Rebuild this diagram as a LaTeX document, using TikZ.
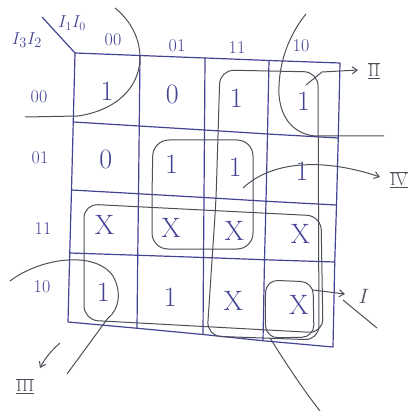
\documentclass[tikz,border=0pt]{standalone}
\usetikzlibrary{calc,arrows.meta}
\definecolor{ink}{RGB}{68,68,148}
\definecolor{pencil}{RGB}{78,78,90}
\tikzset{
  gridline/.style={draw=ink, line width=1.2pt},
  loopline/.style={draw=pencil, line width=1pt, rounded corners=14pt},
  freeline/.style={draw=pencil, line width=1pt},
  cellval/.style={text=ink, font=\fontsize{28}{30}\selectfont, inner sep=0pt},
  hdr/.style={text=ink, font=\fontsize{18}{20}\selectfont, inner sep=0pt},
  roman/.style={text=pencil, font=\fontsize{18}{20}\selectfont, inner sep=0pt},
  arr/.style={draw=pencil, line width=1pt, -{Straight Barb[length=5pt,width=7pt]}},
}
\def\xt{{75,140,205,269,340}}
\def\xb{{68,137,203,263,333}}
\def\yl{{53,122,190,253,322}}
\def\yr{{63,138,205,262,347}}
\begin{document}
\begin{tikzpicture}[x=1pt,y=-1pt]
\useasboundingbox (0,0) rectangle (409,411);
% grid points
\foreach \i in {0,...,4}{
  \foreach \j in {0,...,4}{
    \pgfmathsetmacro\px{\xt[\i]+(\xb[\i]-\xt[\i])*\j/4}
    \pgfmathsetmacro\py{\yl[\j]+(\yr[\j]-\yl[\j])*\i/4}
    \coordinate (p\i\j) at (\px,\py);
  }
}
% grid lines
\foreach \i in {0,...,4}{
  \draw[gridline] (p\i0) -- (p\i1) -- (p\i2) -- (p\i3) -- (p\i4);
  \draw[gridline] (p0\i) -- (p1\i) -- (p2\i) -- (p3\i) -- (p4\i);
}
% cell centres
\foreach \i [evaluate=\i as \ii using int(\i+1)] in {0,...,3}{
  \foreach \j [evaluate=\j as \jj using int(\j+1)] in {0,...,3}{
    \coordinate (c\i\j) at ($(p\i\j)!0.5!(p\ii\jj)$);
  }
}
% cell values
\foreach \i/\j/\t in {0/0/1, 1/0/0, 2/0/1, 3/0/1,
                      0/1/0, 1/1/1, 2/1/1, 3/1/1,
                      0/2/X, 1/2/X, 2/2/X, 3/2/X,
                      0/3/1, 1/3/1, 2/3/X, 3/3/X}{
  \node[cellval] (v\i\j) at ($(c\i\j)+(0,2)$) {\t};
}
% headers
\node[hdr] (h0) at (113,40) {00};
\node[hdr] (h1) at (177,46) {01};
\node[hdr] (h2) at (237,48) {11};
\node[hdr] (h3) at (301,46) {10};
\node[hdr] (r0) at (39,97) {00};
\node[hdr] (r1) at (40,158) {01};
\node[hdr] (r2) at (43,229) {11};
\node[hdr] (r3) at (42,287) {10};
\node[hdr, font=\fontsize{19}{21}\selectfont] (vr) at (27,40) {$I_3I_2$};
\node[hdr, font=\fontsize{18}{20}\selectfont] (vc) at (72,23) {$I_1I_0$};
\coordinate (dg) at (42,17);
\draw[gridline] (dg) -- (p00);
% corner arcs
\draw[freeline] (115,8) .. controls (155,40) and (150,105) .. (78,116) -- (25,117);
\draw[freeline] (306,14) .. controls (285,40) and (278,70) .. (279,95)
   .. controls (281,120) and (295,134) .. (315,136) -- (384,136);
\draw[freeline] (10,281) .. controls (40,258) and (95,250) .. (113,276)
   .. controls (122,292) and (119,310) .. (108,318) -- (67,374);
% loops
\draw[loopline] (84,260) -- (84,204) -- (321,216) -- (323,333) -- (84,320) -- cycle;
\draw[loopline] (216,200) -- (220,70) -- (318,72) -- (319,340) -- (207,336) -- cycle;
\draw[loopline, rounded corners=16pt] (152,195) -- (153,140) -- (253,140) -- (253,249) -- (152,249) -- cycle;
\draw[loopline, rounded corners=12pt] (265,310) -- (266,280) -- (313,282) -- (314,337) -- (266,338) -- cycle;
\draw[freeline] (270,338) .. controls (285,362) and (302,388) .. (320,411);
\draw[freeline] (343,300) -- (377,328);
% labels and arrows
\node[roman, font=\fontsize{16}{18}\selectfont] (lII) at (374,71) {$\overline{\underline{\mathrm{II}}}$};
\node[roman] (lIV) at (399,180) {$\overline{\underline{\mathrm{IV}}}$};
\node[roman, font=\fontsize{20}{22}\selectfont] (lI) at (364,296) {$I$};
\node[roman] (lIII) at (25,386) {$\overline{\underline{\mathrm{III}}}$};
\coordinate (sII) at (306,85);
\coordinate (tII) at (358,70);
\draw[arr] (sII) -- (322,72) -- (tII);
\coordinate (sIV) at (243,188);
\coordinate (tIV) at (380,177);
\draw[arr] (sIV) .. controls (275,158) and (330,160) .. (tIV);
\coordinate (sI) at (313,290);
\coordinate (tI) at (345,294);
\draw[arr] (sI) -- (tI);
\coordinate (sIII) at (60,343);
\coordinate (tIII) at (40,368);
\draw[arr] (sIII) .. controls (52,350) and (45,358) .. (tIII);
\end{tikzpicture}
\end{document}
